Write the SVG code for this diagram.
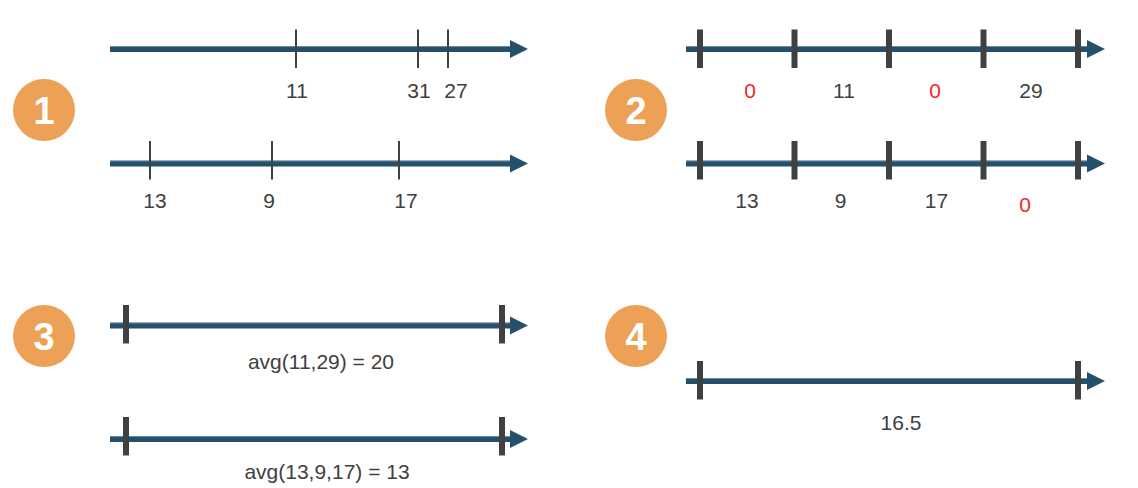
<svg xmlns="http://www.w3.org/2000/svg" xmlns:xlink="http://www.w3.org/1999/xlink" width="1138" height="488" viewBox="0 0 1138 488">
<style>
.axis{stroke:#24506c;stroke-width:6;fill:none}
.hl{stroke:#9db3c3;stroke-width:1;fill:none;opacity:0.6}
.head{fill:#24506c}
.tk{stroke:#404040;stroke-width:2}
.tkb{stroke:#404040;stroke-width:6}
.lbl{font-family:"Liberation Sans",Arial,sans-serif;font-size:21px;fill:#404040;text-anchor:middle}
.red{fill:#ee2a1c}
.badge{fill:#eda157}
.num{font-family:"Liberation Sans",Arial,sans-serif;font-size:38px;font-weight:bold;fill:#ffffff;text-anchor:middle}
</style>
<defs>
<path id="headL" d="M510,-9 L528,0 L510,9 Z"/>
<path id="headR" d="M1087,-9 L1105,0 L1087,9 Z"/>
</defs>
<rect width="1138" height="488" fill="#ffffff"/>

<g id="badges">
<g id="badge1"><circle class="badge" cx="44" cy="110" r="31"/><text class="num" x="44" y="124">1</text></g>
<g id="badge2"><circle class="badge" cx="636" cy="110" r="31"/><text class="num" x="636" y="124">2</text></g>
<g id="badge3"><circle class="badge" cx="44" cy="336" r="31"/><text class="num" x="44" y="350">3</text></g>
<g id="badge4"><circle class="badge" cx="636" cy="336" r="31"/><text class="num" x="636" y="350">4</text></g>
</g>

<g id="connectors">
<g id="p1-axis1">
<line class="axis" x1="110" y1="49" x2="512" y2="49"/>
<line class="hl" x1="110" y1="46.5" x2="510" y2="46.5"/>
<use href="#headL" xlink:href="#headL" class="head" transform="translate(0,49)"/>
<line class="tk" x1="296" y1="29.5" x2="296" y2="68"/>
<line class="tk" x1="418" y1="29.5" x2="418" y2="68"/>
<line class="tk" x1="448" y1="29.5" x2="448" y2="68"/>
</g>
<g id="p1-axis2">
<line class="axis" x1="110" y1="163.5" x2="512" y2="163.5"/>
<line class="hl" x1="110" y1="161" x2="510" y2="161"/>
<use href="#headL" xlink:href="#headL" class="head" transform="translate(0,163.5)"/>
<line class="tk" x1="150" y1="141" x2="150" y2="179.5"/>
<line class="tk" x1="272" y1="141" x2="272" y2="179.5"/>
<line class="tk" x1="399" y1="141" x2="399" y2="179.5"/>
</g>
<g id="p2-axis1">
<line class="axis" x1="686" y1="49" x2="1089" y2="49"/>
<line class="hl" x1="686" y1="46.5" x2="1087" y2="46.5"/>
<use href="#headR" xlink:href="#headR" class="head" transform="translate(0,49)"/>
<line class="tkb" x1="700" y1="29.5" x2="700" y2="68"/>
<line class="tkb" x1="794.5" y1="29.5" x2="794.5" y2="68"/>
<line class="tkb" x1="889" y1="29.5" x2="889" y2="68"/>
<line class="tkb" x1="983.5" y1="29.5" x2="983.5" y2="68"/>
<line class="tkb" x1="1078" y1="29.5" x2="1078" y2="68"/>
</g>
<g id="p2-axis2">
<line class="axis" x1="686" y1="163.5" x2="1089" y2="163.5"/>
<line class="hl" x1="686" y1="161" x2="1087" y2="161"/>
<use href="#headR" xlink:href="#headR" class="head" transform="translate(0,163.5)"/>
<line class="tkb" x1="700" y1="141" x2="700" y2="179.5"/>
<line class="tkb" x1="794.5" y1="141" x2="794.5" y2="179.5"/>
<line class="tkb" x1="889" y1="141" x2="889" y2="179.5"/>
<line class="tkb" x1="983.5" y1="141" x2="983.5" y2="179.5"/>
<line class="tkb" x1="1078" y1="141" x2="1078" y2="179.5"/>
</g>
<g id="p3-axis1">
<line class="axis" x1="110" y1="325.5" x2="512" y2="325.5"/>
<line class="hl" x1="110" y1="323" x2="510" y2="323"/>
<use href="#headL" xlink:href="#headL" class="head" transform="translate(0,325.5)"/>
<line class="tkb" x1="126" y1="305" x2="126" y2="343.5"/>
<line class="tkb" x1="502" y1="305" x2="502" y2="343.5"/>
</g>
<g id="p3-axis2">
<line class="axis" x1="110" y1="439" x2="512" y2="439"/>
<line class="hl" x1="110" y1="436.5" x2="510" y2="436.5"/>
<use href="#headL" xlink:href="#headL" class="head" transform="translate(0,439)"/>
<line class="tkb" x1="126" y1="417" x2="126" y2="455.5"/>
<line class="tkb" x1="502" y1="417" x2="502" y2="455.5"/>
</g>
<g id="p4-axis">
<line class="axis" x1="686" y1="381" x2="1089" y2="381"/>
<line class="hl" x1="686" y1="378.5" x2="1087" y2="378.5"/>
<use href="#headR" xlink:href="#headR" class="head" transform="translate(0,381)"/>
<line class="tkb" x1="700" y1="361" x2="700" y2="399.5"/>
<line class="tkb" x1="1078" y1="361" x2="1078" y2="399.5"/>
</g>
</g>

<g id="labels">
<g id="p1-labels">
<text class="lbl" x="297" y="97.5">11</text>
<text class="lbl" x="419" y="97.5">31</text>
<text class="lbl" x="456" y="97.5">27</text>
<text class="lbl" x="155" y="208">13</text>
<text class="lbl" x="269" y="208">9</text>
<text class="lbl" x="406" y="208">17</text>
</g>
<g id="p2-labels">
<text class="lbl red" x="750" y="97.5">0</text>
<text class="lbl" x="844" y="97.5">11</text>
<text class="lbl red" x="935" y="97.5">0</text>
<text class="lbl" x="1031" y="97.5">29</text>
<text class="lbl" x="747" y="208">13</text>
<text class="lbl" x="840.5" y="208">9</text>
<text class="lbl" x="936.5" y="208">17</text>
<text class="lbl red" x="1025" y="211.5">0</text>
</g>
<g id="p3-labels">
<text class="lbl" x="321" y="368.5">avg(11,29) = 20</text>
<text class="lbl" x="327" y="478.5">avg(13,9,17) = 13</text>
</g>
<g id="p4-labels">
<text class="lbl" x="901" y="429.5">16.5</text>
</g>
</g>
</svg>
